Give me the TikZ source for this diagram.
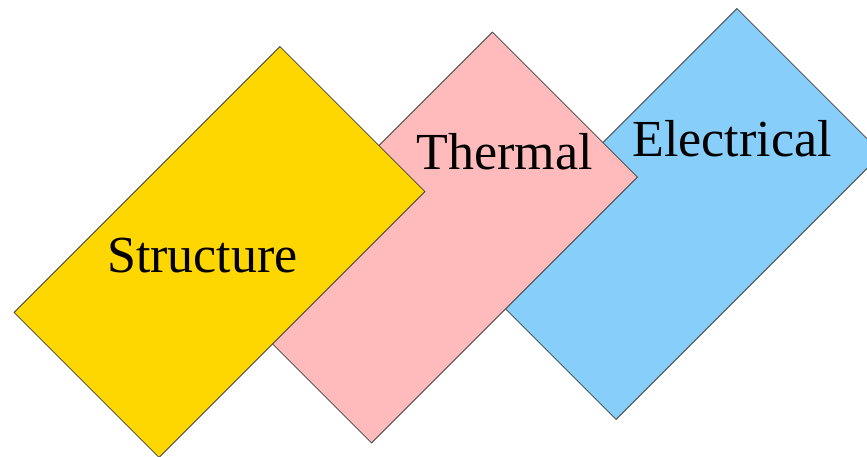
\documentclass[tikz,border=0pt]{standalone}
\usepackage{fontspec}
\setmainfont{Liberation Serif}
\definecolor{cyellow}{HTML}{FFD700}
\definecolor{cpink}{HTML}{FFBBBB}
\definecolor{cblue}{HTML}{87CEFA}
\definecolor{cedge}{HTML}{404040}
\tikzset{
  card/.style={draw=cedge, line width=0.8pt, rotate=45, minimum width=376pt, minimum height=205pt, inner sep=0pt},
  lbl/.style={anchor=base, inner sep=0pt, font=\fontsize{52}{60}\selectfont}
}
\begin{document}
\begin{tikzpicture}[x=1pt,y=-1pt]
\useasboundingbox (0,0) rectangle (867,457);
\clip (0,0) rectangle (867,457);
\node[card, fill=cblue] (elec) at (676.5,214) {};
\node[card, fill=cpink] (therm) at (432,237.5) {};
\node[card, fill=cyellow] (struct) at (219.5,252) {};
\node[lbl] (tstruct) at (202.5,272) {Structure};
\node[lbl] (ttherm) at (504.5,170) {Thermal};
\node[lbl] (telec) at (732,157) {Electrical};
\end{tikzpicture}
\end{document}
